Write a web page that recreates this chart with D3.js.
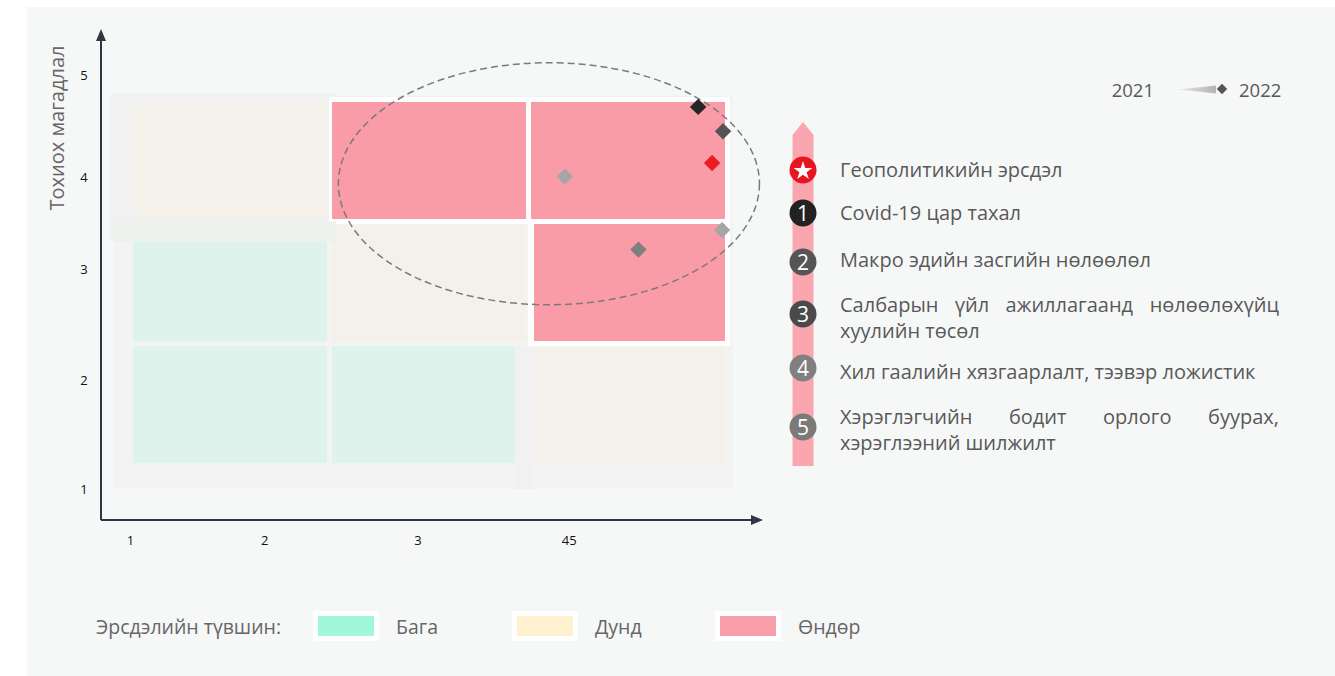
<!DOCTYPE html>
<html>
<head>
<meta charset="utf-8">
<script src="https://cdn.jsdelivr.net/npm/d3@7"></script>
<style>
  body { margin: 0; background: #ffffff; }
  svg { display: block; font-family: "Open Sans", "Noto Sans", sans-serif; }
</style>
</head>
<body>
<svg id="chart" width="1335" height="676"></svg>
<script>
// ---------- data ----------
const yAxisTitle = "Тохиох магадлал";
const yTickLabels = ["1", "2", "3", "4", "5"];
const yTickValues = [0.83, 1.73, 2.64, 3.39, 4.23];
const xTickLabels = ["1", "2", "3", "45"];
const xTickValues = [0.985, 1.66, 2.43, 3.19];

// risk level of each matrix cell, bottom row first, left column first
const levelRows = [
  ["Бага", "Бага", "Дунд"],
  ["Бага", "Дунд", "Өндөр"],
  ["Дунд", "Өндөр", "Өндөр"]
];
const levelNames = ["Бага", "Дунд", "Өндөр"];
const levelLegendColors = ["#a2f7d8", "#fff1d0", "#f99fa9"];
const levelCellColors = ["#ddf3eb", "#f3f1ea", "#f99ca8"];
const levelTitle = "Эрсдэлийн түвшин:";

const riskNames = [
  "Геополитикийн эрсдэл",
  "Covid-19 цар тахал",
  "Макро эдийн засгийн нөлөөлөл",
  "Салбарын үйл ажиллагаанд нөлөөлөхүйц хуулийн төсөл",
  "Хил гаалийн хязгаарлалт, тээвэр ложистик",
  "Хэрэглэгчийн бодит орлого буурах, хэрэглээний шилжилт"
];
const riskBadges = ["★", "1", "2", "3", "4", "5"];
const riskBadgeColors = ["#e8141f", "#222222", "#555555", "#4a4a4a", "#808080", "#7a7a7a"];
const riskImpact2022 = [3.91, 3.84, 3.965, 3.54, 3.96, 3.17];
const riskLikelihood2022 = [3.50, 3.96, 3.76, 2.79, 2.95, 3.39];
const riskMarkerColors = ["#ed1c24", "#262626", "#555555", "#7f7f7f", "#a6a6a6", "#a6a6a6"];

const yearLabels = ["2021", "2022"];

// focus ellipse (data units)
const focusCenter = [3.09, 3.33];
const focusRadius = [1.058, 0.992];

// ---------- drawing ----------
const svg = d3.select("#chart");
svg.append("rect").attr("x", 27).attr("y", 7).attr("width", 1308).attr("height", 669).attr("fill", "#f6f8f7");

const x = d3.scaleLinear().domain([1, 4]).range([133, 730]);
const y = d3.scaleLinear().domain([1, 4]).range([468, 102]);

const g = svg.append("g");

// grey backing tiles
g.append("rect").attr("x", x(0.9)).attr("y", y(4.055)).attr("width", x(4.015) - x(0.9)).attr("height", y(0.83) - y(4.055)).attr("fill", "#f3f3f3");
g.append("rect").attr("x", x(0.885)).attr("y", y(4.065)).attr("width", x(2.02) - x(0.885)).attr("height", y(2.855) - y(4.065)).attr("fill", "#f1f1f1");

// cells
const cells = [];
levelRows.forEach((row, r) => row.forEach((lvl, c) => cells.push({ r: r + 1, c: c + 1, lvl })));

// white frames behind high cells
g.selectAll("rect.frame").data(cells.filter(d => d.lvl === "Өндөр")).join("rect")
  .attr("class", "frame")
  .attr("x", d => x(d.c) - 3).attr("y", d => y(d.r + 1) - 5)
  .attr("width", d => x(d.c + 1) - x(d.c) + 3).attr("height", d => y(d.r) - y(d.r + 1) + 5)
  .attr("fill", "#ffffff");

g.selectAll("rect.cell").data(cells).join("rect")
  .attr("class", "cell")
  .attr("x", d => x(d.c) + (d.c === 3 && d.r === 2 ? 3 : 0))
  .attr("y", d => y(d.r + 1))
  .attr("width", d => x(d.c + 1) - x(d.c) - 5 - (d.c === 3 && d.r === 2 ? 3 : 0) - (d.c === 2 && d.r === 1 ? 11 : 0))
  .attr("height", d => y(d.r) - y(d.r + 1) - 5)
  .attr("fill", d => levelCellColors[levelNames.indexOf(d.lvl)]);

// faint bands
g.append("rect").attr("x", x(0.9)).attr("y", y(3.02)).attr("width", x(2.02) - x(0.9)).attr("height", y(2.855) - y(3.02)).attr("fill", "#eef1ee");
g.append("rect").attr("x", x(2.92)).attr("y", y(2)).attr("width", x(3.015) - x(2.92)).attr("height", y(0.83) - y(2)).attr("fill", "#f0f1f0");

// ellipse
g.append("ellipse")
  .attr("cx", x(focusCenter[0])).attr("cy", y(focusCenter[1]))
  .attr("rx", x(focusCenter[0] + focusRadius[0]) - x(focusCenter[0]))
  .attr("ry", y(focusCenter[1]) - y(focusCenter[1] + focusRadius[1]))
  .attr("fill", "none").attr("stroke", "#7a7a7a").attr("stroke-width", 1.5).attr("stroke-dasharray", "7,4");

// diamonds
const diamond = d3.symbol().type(d3.symbolSquare).size(135);
g.selectAll("path.mk").data(riskNames.map((n, i) => i)).join("path")
  .attr("class", "mk")
  .attr("d", diamond)
  .attr("transform", i => `translate(${x(riskImpact2022[i])},${y(riskLikelihood2022[i])}) rotate(45)`)
  .attr("fill", i => riskMarkerColors[i]);

// axes
const axisColor = "#2f3542";
const ox = 101, oy = 520;
g.append("line").attr("x1", ox).attr("y1", oy).attr("x2", ox).attr("y2", 40).attr("stroke", axisColor).attr("stroke-width", 2);
g.append("path").attr("d", `M${ox},29 L${ox - 5},41 L${ox + 5},41 Z`).attr("fill", axisColor);
g.append("line").attr("x1", ox).attr("y1", oy).attr("x2", 752).attr("y2", oy).attr("stroke", axisColor).attr("stroke-width", 2);
g.append("path").attr("d", `M763,${oy} L751,${oy - 5} L751,${oy + 5} Z`).attr("fill", axisColor);

const yAxis = d3.axisLeft(y).tickValues(yTickValues).tickFormat((d, i) => yTickLabels[i]).tickSize(0).tickPadding(0);
const ya = g.append("g").attr("transform", "translate(89,0)").call(yAxis);
ya.select(".domain").remove();
ya.selectAll("text").attr("font-size", 13).attr("fill", "#111").attr("font-family", "Open Sans").attr("text-anchor", "middle").attr("x", -5).attr("dy", "0.4em");

const xAxis = d3.axisBottom(x).tickValues(xTickValues).tickFormat((d, i) => xTickLabels[i]).tickSize(0).tickPadding(0);
const xa = g.append("g").attr("transform", "translate(0,536)").call(xAxis);
xa.select(".domain").remove();
xa.selectAll("text").attr("font-size", 13).attr("fill", "#111").attr("font-family", "Open Sans");

svg.append("text").attr("transform", "translate(64,128) rotate(-90)").attr("text-anchor", "middle")
  .attr("font-size", 20).attr("fill", "#666").text(yAxisTitle);

// year legend
const lg = svg.append("g");
lg.append("text").attr("x", 1154).attr("y", 97).attr("text-anchor", "end").attr("font-size", 18.5).attr("fill", "#595959").text(yearLabels[0]);
const grad = svg.append("defs").append("linearGradient").attr("id", "wedge");
grad.append("stop").attr("offset", "0%").attr("stop-color", "#e4e4e4");
grad.append("stop").attr("offset", "100%").attr("stop-color", "#b5b5b5");
lg.append("path").attr("d", "M1179,89.5 L1216,85.5 L1216,93.5 Z").attr("fill", "url(#wedge)");
lg.append("path").attr("d", d3.symbol().type(d3.symbolSquare).size(55)).attr("transform", "translate(1222,89) rotate(45)").attr("fill", "#555");
lg.append("text").attr("x", 1239).attr("y", 97).attr("font-size", 18.5).attr("fill", "#595959").text(yearLabels[1]);

// risk list
const barX = 803;
svg.append("path").attr("d", `M${barX},122 L${barX + 10.5},135 L${barX + 10.5},466 L${barX - 10.5},466 L${barX - 10.5},135 Z`).attr("fill", "#f9a6af");

const listY = [170, 213, 262, 314, 368, 427];
const textLines = [
  [[riskNames[0], false]],
  [[riskNames[1], false]],
  [[riskNames[2], false]],
  [["Салбарын үйл ажиллагаанд нөлөөлөхүйц", true], ["хуулийн төсөл", false]],
  [[riskNames[4], false]],
  [["Хэрэглэгчийн бодит орлого буурах,", true], ["хэрэглээний шилжилт", false]]
];
const lineTop = [177, 220, 267, 312, 379, 424];
const textX = 840, textW = 439, listFont = 20;
riskNames.forEach((n, i) => {
  svg.append("circle").attr("cx", barX).attr("cy", listY[i]).attr("r", 13.5).attr("fill", riskBadgeColors[i]);
  if (i === 0) {
    svg.append("path").attr("d", d3.symbol().type(d3.symbolStar).size(110)).attr("transform", `translate(${barX},${listY[i] + 1})`).attr("fill", "#fff");
  } else {
    svg.append("text").attr("x", barX).attr("y", listY[i] + 7.5).attr("text-anchor", "middle").attr("font-size", 21).attr("fill", "#fff").text(riskBadges[i]);
  }
  textLines[i].forEach(([line, justify], k) => {
    const ty = lineTop[i] + k * 26;
    if (!justify) {
      svg.append("text").attr("x", textX).attr("y", ty).attr("font-size", listFont).attr("fill", "#595959").text(line);
    } else {
      const words = line.split(" ");
      const tmp = words.map(w => svg.append("text").attr("font-size", listFont).attr("fill", "#595959").attr("y", ty).text(w));
      const widths = tmp.map(t => t.node().getComputedTextLength());
      const gap = (textW - d3.sum(widths)) / (words.length - 1);
      let cx = textX;
      tmp.forEach((t, j) => { t.attr("x", cx); cx += widths[j] + gap; });
    }
  });
});

// level legend
const bl = svg.append("g");
bl.append("text").attr("x", 96).attr("y", 634).attr("font-size", 19.5).attr("fill", "#666").text(levelTitle);
const swX = [318, 517, 720];
levelNames.forEach((n, i) => {
  bl.append("rect").attr("x", swX[i] - 5).attr("y", 611).attr("width", 66).attr("height", 30).attr("fill", "#fff");
  bl.append("rect").attr("x", swX[i]).attr("y", 616).attr("width", 56).attr("height", 20).attr("fill", levelLegendColors[i]);
  bl.append("text").attr("x", swX[i] + 78).attr("y", 634).attr("font-size", 19.5).attr("fill", "#666").text(n);
});
</script>
</body>
</html>
